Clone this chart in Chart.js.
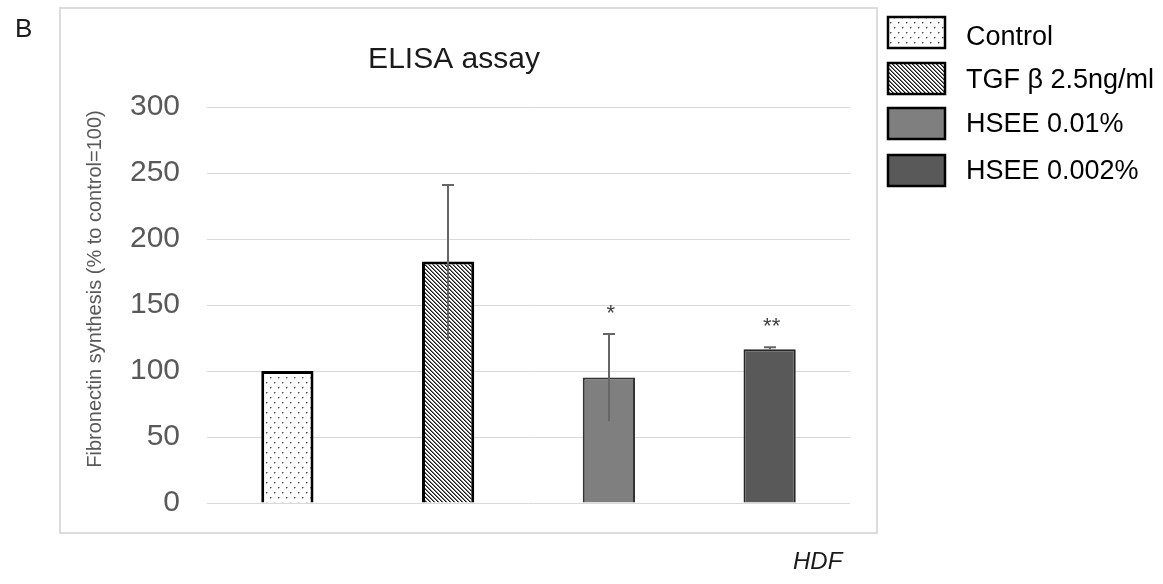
<!DOCTYPE html>
<html>
<head>
<meta charset="utf-8">
<script src="https://cdn.jsdelivr.net/npm/chart.js@4/dist/chart.umd.min.js"></script>
<style>
  html, body { margin: 0; padding: 0; background: #ffffff; }
  #wrap { width: 1163px; height: 584px; position: relative; }
</style>
</head>
<body>
<div id="wrap"><canvas id="c" width="1163" height="584"></canvas></div>
<script>
// ---- data ----
const categories = ['Control', 'TGF \u03B2 2.5ng/ml', 'HSEE 0.01%', 'HSEE 0.002%'];
const values = [100, 183, 95, 116.5];
const errHigh = [null, 241, 128, 118];
const errLow = [null, 124, 62, 116.5];
const marks = ['', '', '*', '**'];
const yMin = 0, yMax = 300, yStep = 50;
const chartTitle = 'ELISA assay';
const yTitle = 'Fibronectin synthesis (% to control=100)';
const panelLabel = 'B';
const xNote = 'HDF';

// ---- patterns ----
function dotPattern() {
  const c = document.createElement('canvas'); c.width = 8; c.height = 10;
  const g = c.getContext('2d');
  g.fillStyle = '#ffffff'; g.fillRect(0, 0, 8, 10);
  g.fillStyle = '#444444';
  g.fillRect(2, 2, 1, 1); g.fillRect(6, 7, 1, 1);
  g.fillStyle = '#aaaaaa';
  g.fillRect(3, 2, 1, 1); g.fillRect(7, 7, 1, 1);
  g.fillRect(2, 3, 1, 1); g.fillRect(6, 8, 1, 1);
  return g.createPattern(c, 'repeat');
}
function hatchPattern() {
  const c = document.createElement('canvas'); c.width = 4; c.height = 4;
  const g = c.getContext('2d');
  g.fillStyle = '#ffffff'; g.fillRect(0, 0, 4, 4);
  for (let i = 0; i < 4; i++) {
    g.fillStyle = '#1a1a1a'; g.fillRect(i, i, 1, 1);
    g.fillStyle = '#777777'; g.fillRect((i + 1) % 4, i, 1, 1);
  }
  return g.createPattern(c, 'repeat');
}
const fills = [dotPattern(), hatchPattern(), '#7f7f7f', '#595959'];
const borders = ['#000000', '#000000', '#333333', '#262626'];
const borderWidths = [3, 3, 2, 2];

const FONT = '"Liberation Sans", Arial, Helvetica, sans-serif';

const extras = {
  id: 'extras',
  beforeDraw(chart) {
    const ctx = chart.ctx;
    ctx.save();
    ctx.strokeStyle = '#dcdcdc';
    ctx.lineWidth = 2;
    ctx.strokeRect(60, 8, 817, 525);
    ctx.restore();
  },
  afterDatasetsDraw(chart) {
    const ctx = chart.ctx;
    const meta = chart.getDatasetMeta(0);
    const ys = chart.scales.y;
    ctx.save();
    ctx.strokeStyle = '#666666';
    ctx.lineWidth = 2;
    meta.data.forEach((bar, i) => {
      if (errHigh[i] == null) return;
      const x = Math.round(bar.x);
      const yh = ys.getPixelForValue(errHigh[i]);
      const yl = ys.getPixelForValue(errLow[i]);
      ctx.beginPath();
      ctx.moveTo(x, yl); ctx.lineTo(x, yh);
      ctx.moveTo(x - 6, yh); ctx.lineTo(x + 6, yh);
      ctx.stroke();
      if (marks[i]) {
        ctx.fillStyle = '#404040';
        ctx.font = '22px ' + FONT;
        ctx.textAlign = 'center';
        ctx.textBaseline = 'middle';
        ctx.fillText(marks[i], bar.x + 2, yh - 20);
      }
    });
    ctx.restore();
  },
  afterDraw(chart) {
    const ctx = chart.ctx;
    ctx.save();
    // title
    ctx.fillStyle = '#1a1a1a';
    ctx.font = '30px ' + FONT;
    ctx.textAlign = 'center';
    ctx.textBaseline = 'alphabetic';
    ctx.fillText(chartTitle, 454, 68);
    // panel label
    ctx.font = '26px ' + FONT;
    ctx.textAlign = 'left';
    ctx.fillText(panelLabel, 15, 37);
    // x note
    ctx.font = 'italic 24px ' + FONT;
    ctx.fillText(xNote, 793, 569);
    // y title
    ctx.save();
    ctx.translate(95, 289);
    ctx.rotate(-Math.PI / 2);
    ctx.fillStyle = '#595959';
    ctx.font = '20px ' + FONT;
    ctx.textAlign = 'center';
    ctx.textBaseline = 'middle';
    ctx.fillText(yTitle, 0, 0);
    ctx.restore();
    // legend
    const boxY = [17, 63, 108, 155];
    const textY = [45, 88, 132, 179];
    categories.forEach((lab, i) => {
      ctx.fillStyle = fills[i];
      ctx.fillRect(888, boxY[i], 57, 31);
      ctx.strokeStyle = '#000000';
      ctx.lineWidth = 2.5;
      ctx.strokeRect(888, boxY[i], 57, 31);
      ctx.fillStyle = '#000000';
      ctx.font = '27px ' + FONT;
      ctx.textAlign = 'left';
      ctx.textBaseline = 'alphabetic';
      ctx.fillText(lab, 966, textY[i]);
    });
    ctx.restore();
  }
};

new Chart(document.getElementById('c'), {
  type: 'bar',
  data: {
    labels: categories,
    datasets: [{
      data: values,
      backgroundColor: fills,
      borderColor: borders,
      borderWidth: borderWidths,
      categoryPercentage: 1,
      barPercentage: 0.325
    }]
  },
  options: {
    responsive: false,
    animation: false,
    devicePixelRatio: 1,
    layout: { padding: { left: 64, top: 107, right: 313, bottom: 81 } },
    plugins: { legend: { display: false }, tooltip: { enabled: false }, title: { display: false } },
    scales: {
      x: { display: false },
      y: {
        min: yMin, max: yMax,
        ticks: { stepSize: yStep, padding: 27, color: '#595959', font: { family: FONT, size: 30 } },
        grid: { color: '#d9d9d9', lineWidth: 1, drawTicks: false },
        border: { display: false },
        afterFit(s) { s.width = 143; }
      }
    }
  },
  plugins: [extras]
});
</script>
</body>
</html>
